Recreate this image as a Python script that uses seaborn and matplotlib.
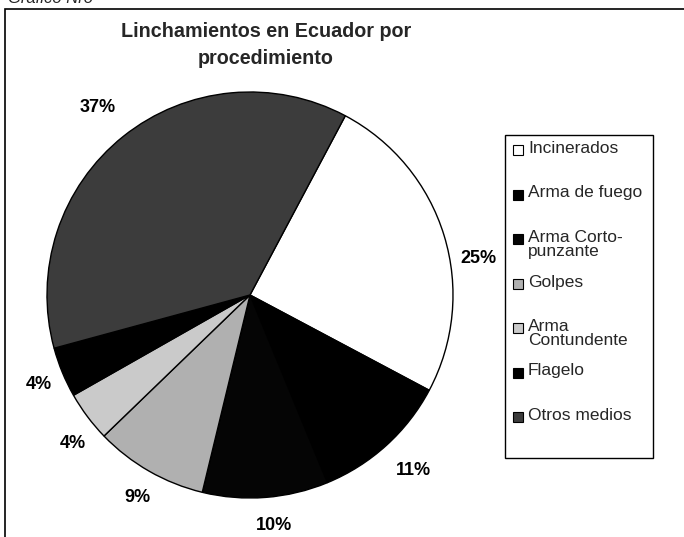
import numpy as np
import matplotlib
matplotlib.use("Agg")
import matplotlib.pyplot as plt
import seaborn as sns
from matplotlib.patches import Rectangle

# data
categories = ["Incinerados", "Arma de fuego", "Arma Corto-\npunzante", "Golpes",
              "Arma\nContundente", "Flagelo", "Otros medios"]
shares = [25, 11, 10, 9, 4, 4, 37]
slice_colors = ["#ffffff", "#000000", "#050505", "#b0b0b0", "#cacaca", "#000000", "#3c3c3c"]

# where Excel put the % labels: angle clockwise from 12 o'clock, distance in radii
label_angle = [81, 137, 174, 209, 230, 247, 321]
label_dist = [1.14, 1.18, 1.14, 1.14, 1.14, 1.13, 1.19]

sns.set_theme(style="white")
plt.rcParams["font.family"] = ["Liberation Sans", "DejaVu Sans"]

W, H = 684, 537
fig = plt.figure(figsize=(W / 100, H / 100), dpi=100)
fig.patch.set_facecolor("white")


def fx(x):
    return x / W


def fy(y):
    return 1 - y / H


# outer frame (only top and left edges visible in the crop)
fig.patches.append(Rectangle((fx(5), fy(545)), fx(700) - fx(5), fy(9) - fy(545),
                             transform=fig.transFigure, fill=False,
                             edgecolor="black", linewidth=1.2))
fig.text(fx(8), fy(3), "Gráfico Nro", fontsize=12, style="italic", va="baseline")

fig.text(fx(266), fy(22), "Linchamientos en Ecuador por\nprocedimiento",
         ha="center", va="top", fontsize=14.2, fontweight="bold",
         linespacing=1.55)

# pie: centre ~(250, 295) px, radius ~203 px
r = 203
ax = fig.add_axes([fx(250 - r), fy(295 + r), 2 * r / W, 2 * r / H])
wedges, texts, autotexts = ax.pie(
    shares, colors=slice_colors, startangle=62, counterclock=False,
    autopct="%1.0f%%", pctdistance=1.15,
    wedgeprops=dict(edgecolor="black", linewidth=1.0),
    textprops=dict(fontsize=13, fontweight="bold", color="black"))
for t, a, d in zip(autotexts, label_angle, label_dist):
    th = np.deg2rad(a)
    t.set_position((d * np.sin(th), d * np.cos(th)))
ax.set_xlim(-1, 1)
ax.set_ylim(-1, 1)
ax.set_aspect("equal")
ax.axis("off")

# legend box, Excel style
fig.patches.append(Rectangle((fx(505), fy(458)), fx(653) - fx(505), fy(135) - fy(458),
                             transform=fig.transFigure, fill=False,
                             edgecolor="black", linewidth=1.0))
for i, (lab, col) in enumerate(zip(categories, slice_colors)):
    yc = 150 + i * 44.5
    fig.patches.append(Rectangle((fx(513), fy(yc + 5)), 10 / W, 10 / H,
                                 transform=fig.transFigure, facecolor=col,
                                 edgecolor="black", linewidth=0.8))
    fig.text(fx(528), fy(yc - 9), lab, fontsize=12.5, va="top", ha="left",
             linespacing=0.95)

fig.savefig("out.png", dpi=100)
